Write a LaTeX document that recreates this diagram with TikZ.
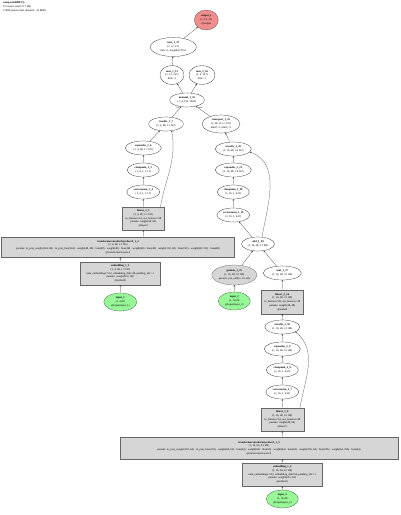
\documentclass[tikz,border=0pt]{standalone}
\usepackage{fontspec}
\setmainfont{Liberation Serif}
\usetikzlibrary{shapes.geometric,arrows.meta}
\newcommand\fs{\fontsize{5.5}{7.5}\selectfont}
\newcommand\lfs{\fontsize{4}{5}\selectfont}
\definecolor{outred}{HTML}{F08E8E}
\definecolor{ingreen}{HTML}{98F898}
\definecolor{modgray}{HTML}{D6D6D6}
\tikzset{
  fn/.style={ellipse, draw=black, line width=0.4pt, fill=white, inner sep=0pt, align=center, font=\fs},
  outn/.style={fn, fill=outred, draw=black!80},
  inn/.style={fn, fill=ingreen, draw=black!80},
  gmod/.style={fn, fill=modgray, draw=black!70},
  modbox/.style={rectangle, draw=black!60, fill=modgray, line width=0.4pt, inner sep=1pt, align=center, font=\fs},
  conn/.style={-{Stealth[length=3.2pt,width=2.8pt]}, line width=0.4pt, draw=black!80},
  elab/.style={font=\lfs, inner sep=0.5pt}
}
\begin{document}
\begin{tikzpicture}[x=2pt,y=-2pt]
\useasboundingbox (0,0) rectangle (400,515);
\node[anchor=north west, align=left, font=\fs, inner sep=0pt] (hdr) at (3,1.5) {\textbf{compactGRBEV()}\\12 tensors total (x1.7 kB)\\17698 params total (modulo: ~22 MiB)};

% top part
\node[outn, minimum width=48pt, minimum height=40pt] (out) at (206.3,20) {\textbf{output\_1}\\(1, 12, 4 f)\\@output};
\node[fn, minimum width=92pt, minimum height=38pt] (max27) at (173.3,47) {\textbf{max\_1\_27}\\(1, 12, 4 f)\\dim=-1, keepdim=True};
\node[fn, minimum width=48pt, minimum height=38pt] (max13) at (172,75) {\textbf{max\_1\_13}\\(1, 12, 14 f)\\dim=-1};
\node[fn, minimum width=52pt, minimum height=38pt] (max26) at (202,75) {\textbf{max\_2\_26}\\(1, 4, 14 f)\\dim=-1};
\node[fn, minimum width=70pt, minimum height=28pt] (mm) at (187,100) {\textbf{matmul\_1\_16}\\(1, 4, 192, 384 f)};
\node[fn, minimum width=70pt, minimum height=28pt] (td1) at (166,124) {\textbf{truediv\_1\_7}\\(1, 4, 48, 1.1 f32)};
\node[fn, minimum width=76pt, minimum height=36pt] (tp) at (221,124) {\textbf{transpose\_1\_22}\\(1, 48, 15 1.1 f32)\\dim0=-1, dim1=-1};

% left chain
\node[fn, minimum width=72pt, minimum height=28pt] (ex1) at (143.3,148) {\textbf{expandas\_1\_6}\\(1, 4, 48, 1.1 f32)};
\node[fn, minimum width=64pt, minimum height=28pt] (cm1) at (143.3,170) {\textbf{clampmin\_1\_5}\\(1, 4, 1, 1.1 f)};
\node[fn, minimum width=66pt, minimum height=28pt] (vn1) at (143.3,192) {\textbf{vectornorm\_1\_4}\\(1, 4, 1, 1.1 f)};
\node[modbox, minimum width=84pt, minimum height=46pt] (lin1) at (143.3,218.5) {\textbf{linear\_1\_3}\\(1, 4, 48, 1.1 f32)\\in\_features=64, out\_features=48\\params: weight(48, 64)\\@layer2};
\node[modbox, minimum width=466pt, minimum height=40pt] (tr1) at (118,247) {\textbf{transformerencoderlayerdwrd\_1\_2}\\(1, 4, 48, 1.1 f32)\\params: in\_proj\_weight(144, 48) · in\_proj\_bias(144) · weight(48, 48) · bias(48) · weight(48) · bias(48) · weight(48) · bias(48) · weight(192, 48) · bias(192) · weight(48, 192) · bias(48)\\@transformer.layers.0};
\node[modbox, minimum width=160pt, minimum height=46pt] (emb1) at (120.3,273.5) {\textbf{embedding\_1\_1}\\(1, 4, 48, 1.1 f32)\\num\_embeddings=512, embedding\_dim=48, padding\_idx=-1\\params: weight(512, 48)\\@embed0};
\node[inn, minimum width=66pt, minimum height=36pt] (in1) at (120.3,302) {\textbf{input\_1}\\(1, 4) f8\\@input(input\_1)};

% right chain (upper)
\node[fn, minimum width=72pt, minimum height=28pt] (td2) at (233.3,149) {\textbf{truediv\_1\_26}\\(1, 16, 48, 1.6 f32)};
\node[fn, minimum width=72pt, minimum height=28pt] (ex2) at (233.3,170) {\textbf{expandas\_1\_21}\\(1, 16, 48, 1.6 f32)};
\node[fn, minimum width=64pt, minimum height=28pt] (cm2) at (233.3,192) {\textbf{clampmin\_1\_20}\\(1, 16, 1, 64 f)};
\node[fn, minimum width=66pt, minimum height=28pt] (vn2) at (233.3,215) {\textbf{vectornorm\_1\_19}\\(1, 16, 1, 64 f)};
\node[fn, minimum width=66pt, minimum height=28pt] (add) at (258,244) {\textbf{add\_1\_18}\\(1, 16, 48, 3.1 kB)};
\node[gmod, minimum width=90pt, minimum height=40pt] (gi) at (234.3,275) {\textbf{getitem\_1\_15}\\(1, 16, 48, 3.1 kB)\\params: pos\_emb(1, 16, 48)};
\node[fn, minimum width=76pt, minimum height=28pt] (cat) at (282.3,273) {\textbf{mul\_1\_17}\\(1, 16, 48, 3.1 kB)};
\node[inn, minimum width=64pt, minimum height=36pt] (in2) at (234.3,301) {\textbf{input\_2}\\(1, 16) f4\\@input(input\_2)};
\node[modbox, minimum width=84pt, minimum height=48pt] (lin2) at (282.3,302) {\textbf{linear\_2\_16}\\(1, 16, 48, 3.1 kB)\\in\_features=48, out\_features=48\\params: weight(48, 48)\\@embed};

% right chain (lower)
\node[fn, minimum width=70pt, minimum height=28pt] (td3) at (282.3,327) {\textbf{truediv\_2\_10}\\(1, 16, 48, 3.1 kB)};
\node[fn, minimum width=72pt, minimum height=28pt] (ex3) at (282.3,349) {\textbf{expandas\_2\_9}\\(1, 16, 48, 3.1 kB)};
\node[fn, minimum width=64pt, minimum height=28pt] (cm3) at (282.3,370) {\textbf{clampmin\_2\_8}\\(1, 16, 1, 64 f)};
\node[fn, minimum width=66pt, minimum height=28pt] (vn3) at (282.3,392) {\textbf{vectornorm\_2\_7}\\(1, 16, 1, 64 f)};
\node[modbox, minimum width=86pt, minimum height=46pt] (lin3) at (282.3,419.5) {\textbf{linear\_1\_6}\\(1, 16, 48, 3.1 kB)\\in\_features=64, out\_features=48\\params: weight(48, 64)\\@layer2};
\node[modbox, minimum width=556pt, minimum height=44pt] (tr2) at (259,448) {\textbf{transformerencoderlayerdwrd\_1\_5}\\(1, 16, 64, 4.1 kB)\\params: in\_proj\_weight(192, 64) · in\_proj\_bias(192) · weight(64, 64) · bias(64) · weight(64) · bias(64) · weight(64) · bias(64) · weight(256, 64) · bias(256) · weight(64, 256) · bias(64)\\@transformer.layers.0};
\node[modbox, minimum width=160pt, minimum height=46pt] (emb2) at (282.3,474.5) {\textbf{embedding\_1\_4}\\(1, 16, 64, 4.1 kB)\\num\_embeddings=512, embedding\_dim=64, padding\_idx=-1\\params: weight(512, 64)\\@embed1};
\node[inn, minimum width=64pt, minimum height=36pt] (in3) at (282.3,499) {\textbf{input\_3}\\(1, 16) f8\\@input(input\_3)};

% connectors
\coordinate (l1a) at ([xshift=-8pt]lin1.north east);
\coordinate (l3a) at ([xshift=-8pt]lin3.north east);
\draw[conn] (max27) -- (out);
\draw[conn] (max13) -- (max27);
\draw[conn] (mm) -- (max13);
\draw[conn] (mm) -- (max26);
\draw[conn] (td1) -- node[elab, pos=0.85, left] {self} (mm);
\draw[conn] (tp) -- node[elab, pos=0.85, right] {other} (mm);
\draw[conn] (ex1) -- (td1);
\draw[conn] (l1a) to[out=80,in=-80] (td1.-50);
\draw[conn] ([xshift=0.7pt]cm1.north) -- (ex1.south);
\draw[conn] ([xshift=0.7pt]vn1.north) -- (vn1.north |- cm1.south);
\draw[conn] ([xshift=0.7pt]lin1.north) -- (vn1.south);
\draw[conn] ([xshift=0.7pt]tr1.north -| lin1) -- (lin1.south);
\draw[conn] ([xshift=0.7pt]emb1.north) -- (tr1.south -| emb1);
\draw[conn] ([xshift=0.7pt]in1.north) -- (emb1.south);

\draw[conn] (td2) -- (tp);
\draw[conn] ([xshift=0.7pt]ex2.north) -- (td2.south);
\draw[conn] ([xshift=0.7pt]cm2.north) -- (ex2.south);
\draw[conn] ([xshift=0.7pt]vn2.north) -- (cm2.south);
\draw[conn] (add) -- (vn2);
\draw[conn] (add.60) to[out=80,in=-20] (td2.-10);
\draw[conn] (gi) -- (add);
\draw[conn] (cat) -- (add);
\draw[conn] ([xshift=0.7pt]in2.north) -- (gi.south);
\draw[conn] ([xshift=0.7pt]lin2.north) -- (cat.south);
\draw[conn] ([xshift=0.7pt]td3.north) -- (lin2.south);
\draw[conn] ([xshift=0.7pt]ex3.north) -- (td3.south);
\draw[conn] ([xshift=0.7pt]cm3.north) -- (ex3.south);
\draw[conn] ([xshift=0.7pt]vn3.north) -- (cm3.south);
\draw[conn] ([xshift=0.7pt]lin3.north) -- (vn3.south);
\draw[conn] (l3a) to[out=80,in=-40] (td3.-20);
\draw[conn] ([xshift=0.7pt]tr2.north -| lin3) -- (lin3.south);
\draw[conn] ([xshift=0.7pt]emb2.north) -- (tr2.south -| emb2);
\draw[conn] ([xshift=0.7pt]in3.north) -- (emb2.south);
\end{tikzpicture}
\end{document}
